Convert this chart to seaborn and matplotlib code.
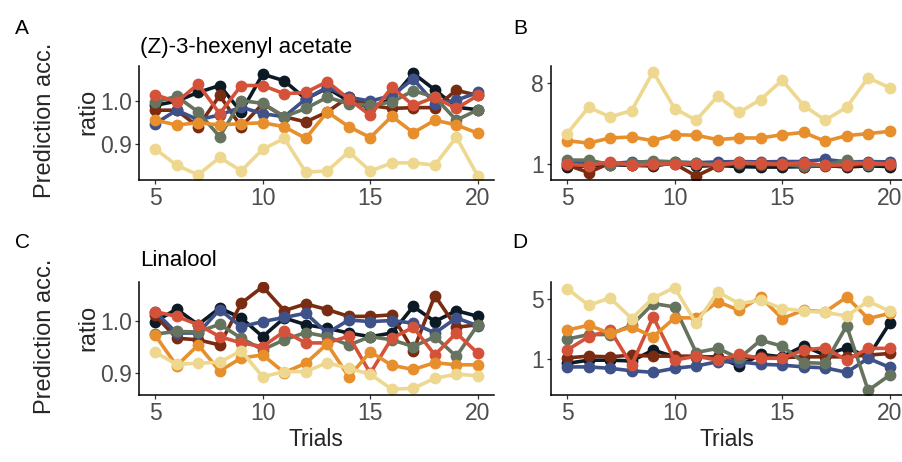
import numpy as np
import pandas as pd
import matplotlib
matplotlib.use("Agg")
import matplotlib.pyplot as plt
import seaborn as sns
from matplotlib.ticker import FixedLocator, NullLocator, FixedFormatter

sns.set_style("ticks")
plt.rcParams["font.family"] = ["Liberation Sans", "DejaVu Sans"]

trials = list(range(5, 21))
series_names = ["black", "brown", "blue", "gray", "red", "orange", "yellow"]
series_colors = ["#0c1a25", "#7a2c12", "#3e5189", "#66735f", "#d4523a", "#e78f2c", "#eed88f"]

# Panel A: (Z)-3-hexenyl acetate, ratio
A_black = [0.990, 1.000, 1.020, 1.036, 0.975, 1.062, 1.047, 1.005, 1.030, 1.000, 0.985, 1.005, 1.064, 1.026, 0.986, 0.980]
A_brown = [0.979, 0.979, 0.941, 1.013, 0.941, 0.994, 0.964, 0.952, 0.975, 1.010, 0.990, 0.983, 0.985, 0.985, 1.025, 1.013]
A_blue = [0.948, 0.979, 0.957, 0.968, 0.986, 0.971, 0.964, 1.005, 1.032, 1.009, 1.000, 1.013, 1.051, 0.994, 1.002, 1.020]
A_gray = [0.998, 1.011, 0.975, 0.918, 1.001, 0.995, 0.964, 0.983, 1.009, 0.994, 0.990, 0.998, 1.024, 1.009, 0.956, 0.980]
A_red = [1.015, 0.998, 1.039, 0.971, 1.036, 1.036, 1.017, 1.020, 1.045, 1.005, 0.967, 1.032, 0.990, 1.009, 0.983, 1.013]
A_orange = [0.956, 0.945, 0.950, 0.945, 0.948, 0.950, 0.941, 0.914, 0.975, 0.941, 0.916, 0.965, 0.927, 0.956, 0.945, 0.926]
A_yellow = [0.890, 0.852, 0.830, 0.870, 0.839, 0.889, 0.914, 0.836, 0.839, 0.883, 0.839, 0.857, 0.858, 0.852, 0.917, 0.827]

# Panel B: (Z)-3-hexenyl acetate, log scale
B_black = [0.93, 0.95, 0.98, 0.96, 0.95, 1.02, 0.94, 0.96, 0.93, 0.92, 0.92, 0.93, 0.96, 0.92, 0.95, 0.93]
B_brown = [0.97, 0.80, 1.02, 0.97, 0.98, 1.00, 0.73, 0.95, 1.00, 0.98, 0.97, 0.93, 0.95, 0.94, 1.00, 0.97]
B_blue = [1.03, 1.02, 1.00, 1.05, 1.05, 1.04, 1.03, 1.05, 1.06, 1.05, 1.06, 1.06, 1.12, 1.05, 1.06, 1.05]
B_gray = [1.10, 1.10, 0.98, 1.02, 1.08, 1.05, 1.02, 0.97, 1.03, 1.00, 0.99, 0.95, 0.97, 1.10, 0.97, 1.00]
B_red = [0.99, 0.95, 1.06, 0.96, 0.99, 1.00, 0.99, 0.97, 1.04, 1.01, 0.99, 1.03, 0.96, 0.98, 1.03, 0.99]
B_orange = [1.81, 1.70, 1.94, 1.99, 1.81, 2.11, 2.08, 1.86, 1.94, 1.94, 2.11, 2.24, 1.78, 2.06, 2.17, 2.30]
B_yellow = [2.17, 4.27, 3.33, 3.92, 10.6, 4.13, 3.06, 5.67, 3.75, 5.20, 8.57, 4.46, 3.06, 4.27, 9.10, 7.03]

# Panel C: Linalool, ratio
C_black = [0.998, 1.022, 0.992, 1.024, 1.005, 0.969, 1.005, 0.992, 0.985, 0.976, 0.969, 0.976, 1.027, 0.998, 1.019, 1.008]
C_brown = [1.010, 0.966, 0.963, 0.953, 1.033, 1.065, 1.019, 1.032, 1.021, 1.008, 1.008, 1.011, 0.942, 1.048, 0.987, 0.992]
C_blue = [1.017, 0.976, 0.976, 1.021, 0.988, 0.998, 1.006, 1.014, 0.976, 1.001, 0.998, 1.000, 0.995, 0.976, 1.005, 0.990]
C_gray = [0.974, 0.979, 0.978, 0.993, 0.966, 0.944, 0.963, 0.977, 0.969, 0.953, 0.969, 0.963, 0.950, 0.969, 0.931, 0.992]
C_red = [1.017, 1.008, 0.992, 0.969, 0.957, 0.950, 0.979, 0.957, 0.957, 0.970, 0.899, 0.966, 0.987, 0.934, 0.976, 0.937]
C_orange = [0.972, 0.913, 0.953, 0.903, 0.928, 0.934, 0.900, 0.918, 0.955, 0.892, 0.940, 0.914, 0.906, 0.919, 0.915, 0.915]
C_yellow = [0.939, 0.916, 0.918, 0.920, 0.942, 0.892, 0.902, 0.902, 0.919, 0.908, 0.897, 0.868, 0.870, 0.889, 0.897, 0.894]

# Panel D: Linalool, log scale
D_black = [0.90, 0.98, 0.98, 0.96, 1.28, 1.07, 1.07, 1.07, 0.84, 1.14, 1.07, 1.43, 1.12, 1.36, 1.07, 2.60]
D_brown = [1.04, 1.09, 1.07, 1.12, 1.09, 1.09, 1.09, 1.05, 1.03, 1.07, 1.05, 1.07, 1.07, 1.07, 1.12, 1.17]
D_blue = [0.82, 0.82, 0.79, 0.74, 0.71, 0.79, 0.84, 0.94, 0.94, 0.88, 0.86, 0.82, 0.80, 0.71, 1.03, 0.81]
D_gray = [1.71, 1.93, 1.93, 2.47, 4.38, 4.01, 1.20, 1.34, 1.03, 1.66, 1.42, 0.92, 0.90, 2.43, 0.44, 0.66]
D_red = [1.28, 1.82, 2.17, 0.86, 3.08, 0.98, 1.09, 0.98, 1.14, 1.03, 1.03, 1.28, 1.36, 0.98, 1.34, 1.34]
D_orange = [2.17, 2.47, 1.99, 2.36, 1.82, 3.00, 3.00, 4.60, 3.68, 5.20, 2.95, 3.68, 3.51, 5.20, 2.95, 3.37]
D_yellow = [6.51, 4.19, 5.08, 2.95, 5.08, 6.68, 2.59, 5.95, 4.38, 4.78, 3.84, 3.60, 3.46, 3.16, 4.65, 3.58]

x_ticks = [5, 10, 15, 20]
A_yticks = [0.9, 1.0]
A_ylabels = ["0.9", "1.0"]
B_yticks = [1, 8]
B_ylabels = ["1", "8"]
D_yticks = [1, 5]
D_ylabels = ["1", "5"]
panel_letters = ["A", "B", "C", "D"]
subtitles = ["(Z)-3-hexenyl acetate", "Linalool"]
y_title_1 = "Prediction acc."
y_title_2 = "ratio"
x_title = "Trials"


def long_df(series_lists):
    rows = []
    for name, vals in zip(series_names, series_lists):
        for t, v in zip(trials, vals):
            rows.append({"trial": t, "value": v, "series": name})
    return pd.DataFrame(rows)


dfA = long_df([A_black, A_brown, A_blue, A_gray, A_red, A_orange, A_yellow])
dfB = long_df([B_black, B_brown, B_blue, B_gray, B_red, B_orange, B_yellow])
dfC = long_df([C_black, C_brown, C_blue, C_gray, C_red, C_orange, C_yellow])
dfD = long_df([D_black, D_brown, D_blue, D_gray, D_red, D_orange, D_yellow])

W, H = 903, 462
fig = plt.figure(figsize=(W / 100, H / 100), dpi=100)


def rect(left, top, right, bottom):
    return [left / W, 1 - bottom / H, (right - left) / W, (bottom - top) / H]


axA = fig.add_axes(rect(139, 66, 494, 180))
axB = fig.add_axes(rect(551, 66, 903, 180))
axC = fig.add_axes(rect(139, 282, 494, 395))
axD = fig.add_axes(rect(551, 282, 903, 395))

pal = dict(zip(series_names, series_colors))

for ax, df in [(axA, dfA), (axB, dfB), (axC, dfC), (axD, dfD)]:
    sns.lineplot(data=df, x="trial", y="value", hue="series", hue_order=series_names,
                 palette=pal, marker="o", markersize=8.5, markeredgewidth=0,
                 linewidth=2.6, estimator=None, errorbar=None, legend=False, ax=ax)
    ax.set_xlabel("")
    ax.set_ylabel("")
    sns.despine(ax=ax)
    for s in ["left", "bottom"]:
        ax.spines[s].set_linewidth(1.1)
        ax.spines[s].set_color("black")
    ax.set_xticks(x_ticks)
    ax.tick_params(axis="both", which="major", direction="out", length=3, width=0.9,
                   color="#333333", labelcolor="#4D4D4D", labelsize=16.5, pad=2)
    ax.set_facecolor("white")

axA.set_xlim(4.25, 20.75)
axC.set_xlim(4.25, 20.75)
axB.set_xlim(4.25, 20.62)
axD.set_xlim(4.25, 20.62)

axA.set_ylim(0.818, 1.081)
axA.set_yticks(A_yticks)
axA.set_yticklabels(A_ylabels)
axC.set_ylim(0.857, 1.074)
axC.set_yticks(A_yticks)
axC.set_yticklabels(A_ylabels)

for ax, lim, ticks, labels in [(axB, (0.66, 12.3), B_yticks, B_ylabels),
                               (axD, (0.39, 7.75), D_yticks, D_ylabels)]:
    ax.set_yscale("log")
    ax.set_ylim(*lim)
    ax.yaxis.set_major_locator(FixedLocator(ticks))
    ax.yaxis.set_major_formatter(FixedFormatter(labels))
    ax.yaxis.set_minor_locator(NullLocator())
    ax.tick_params(axis="y", which="minor", length=0)

# panel letters
for letter, (px, py) in zip(panel_letters, [(22, 28), (520, 28), (22, 242), (520, 242)]):
    fig.text(px / W, 1 - py / H, letter, fontsize=15, ha="center", va="center", color="black")

# subtitles
fig.text(140 / W, 1 - 47 / H, subtitles[0], fontsize=16, ha="left", va="center", color="black")
fig.text(140 / W, 1 - 260 / H, subtitles[1], fontsize=16, ha="left", va="center", color="black")

# y titles
for cy in [120, 336]:
    fig.text(45 / W, 1 - cy / H, y_title_1, fontsize=17, rotation=90, ha="center", va="center")
    fig.text(88 / W, 1 - (cy - 8) / H, y_title_2, fontsize=17, rotation=90, ha="center", va="center")

# x titles
fig.text(316 / W, 1 - 440 / H, x_title, fontsize=16.5, ha="center", va="center")
fig.text(727 / W, 1 - 440 / H, x_title, fontsize=16.5, ha="center", va="center")

fig.savefig("out.png", dpi=100, facecolor="white")
